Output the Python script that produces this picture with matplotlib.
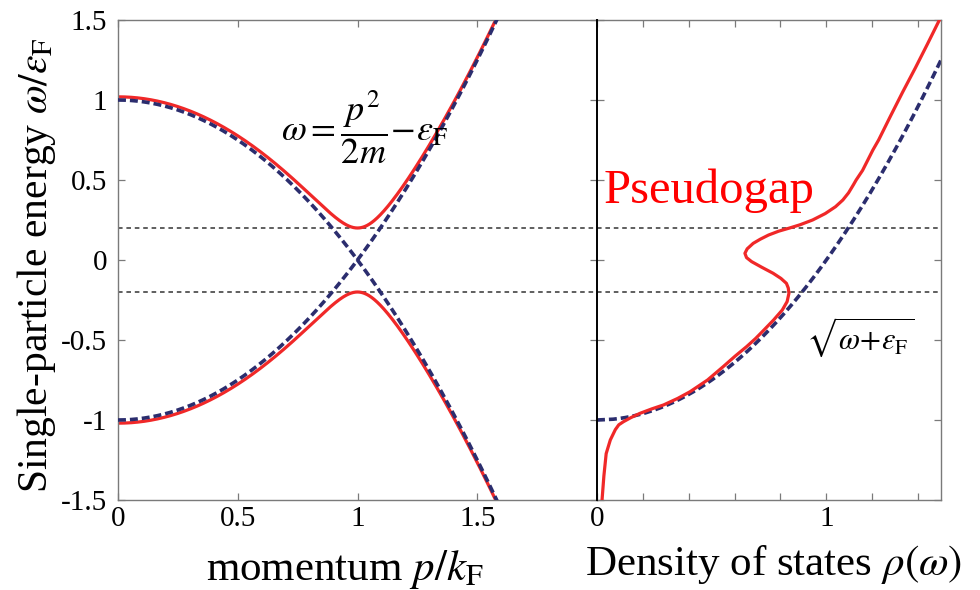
import glob
import os
import numpy as np
import matplotlib
matplotlib.use("Agg")
import matplotlib.pyplot as plt
from matplotlib import font_manager as fm

# register a Times-like serif face explicitly from its file
serif_name = None
cands = []
for d in ("/usr/share/fonts", "/usr/local/share/fonts", os.path.expanduser("~/.fonts")):
    cands += glob.glob(os.path.join(d, "**", "*.ttf"), recursive=True)
for path in sorted(cands):
    if os.path.basename(path).lower().startswith("liberationserif-regular"):
        fm.fontManager.addfont(path)
        serif_name = fm.FontProperties(fname=path).get_name()
        break
if serif_name is None:
    serif_name = "DejaVu Serif"

plt.rcParams["font.family"] = [serif_name, "DejaVu Serif"]
plt.rcParams["mathtext.fontset"] = "stix"
plt.rcParams["axes.unicode_minus"] = False

# ---- data -------------------------------------------------------------
# momentum grid (units of k_F) and pairing gap (units of eps_F)
momentum = np.linspace(0.0, 2.0, 801)
gap = 0.2

# free-particle density of states sampled on energy grid
dos_energy = np.linspace(-1.0, 1.5, 501)

# pseudogap density of states: (energy, rho) pairs
pg_energy = [-1.50, -1.35, -1.21, -1.125, -1.06, -1.03, -1.01, -0.985, -0.958,
             -0.93, -0.906, -0.865, -0.823, -0.75, -0.667, -0.60, -0.542, -0.49,
             -0.4375, -0.375, -0.3125, -0.26, -0.208, -0.175, -0.146, -0.115,
             -0.083, -0.045, -0.01, 0.015, 0.042, 0.07, 0.104, 0.13, 0.156,
             0.18, 0.20, 0.22, 0.25, 0.29, 0.333, 0.375, 0.42, 0.47, 0.5, 0.56,
             0.6875, 0.75, 0.9, 1.05, 1.2, 1.35, 1.5]
pg_rho = [0.022, 0.030, 0.040, 0.058, 0.080, 0.095, 0.116, 0.148, 0.188,
          0.240, 0.290, 0.352, 0.406, 0.482, 0.550, 0.603, 0.652, 0.692,
          0.728, 0.770, 0.808, 0.829, 0.837, 0.834, 0.826, 0.802,
          0.768, 0.718, 0.674, 0.652, 0.645, 0.655, 0.681, 0.712, 0.748,
          0.792, 0.840, 0.885, 0.940, 0.995, 1.040, 1.072, 1.097, 1.118, 1.130, 1.158,
          1.203, 1.228, 1.280, 1.333, 1.388, 1.441, 1.493]

y_ticks = [-1.5, -1.0, -0.5, 0.0, 0.5, 1.0, 1.5]
y_ticklabels = ["-1.5", "-1", "-0.5", "0", "0.5", "1", "1.5"]
left_xticks = [0.0, 0.5, 1.0, 1.5]
left_xticklabels = ["0", "0.5", "1", "1.5"]
right_xticks = [0.0, 0.2, 0.4, 0.6, 0.8, 1.0, 1.2, 1.4]
right_xticklabels = ["0", "", "", "", "", "1", "", ""]

# ---- styles -----------------------------------------------------------
RED = "#f02828"
NAVY = "#2b2d6e"
GRID_DOT = "#333333"
FRAME = "#7a7a7a"

fig = plt.figure(figsize=(9.8, 5.9), dpi=100)
W, H = 980.0, 590.0
bottom = 1 - 500 / H
height = 480 / H
ax1 = fig.add_axes([118 / W, bottom, 479 / W, height])
ax2 = fig.add_axes([597 / W, bottom, 344 / W, height])

# ---- left: dispersion -------------------------------------------------
xi = momentum ** 2 - 1.0
E = np.sqrt(xi ** 2 + gap ** 2)
ax1.plot(momentum, E, color=RED, lw=2.3, zorder=2)
ax1.plot(momentum, -E, color=RED, lw=2.3, zorder=2)
ax1.plot(momentum, xi, color=NAVY, lw=2.6, ls=(0, (2.2, 1.1)), zorder=3)
ax1.plot(momentum, -xi, color=NAVY, lw=2.6, ls=(0, (2.2, 1.1)), zorder=3)
for g in (gap, -gap):
    ax1.axhline(g, color=GRID_DOT, lw=1.1, ls=(0, (3, 2.5)), zorder=1)
ax1.text(1.03, 0.83, r"$\omega = \dfrac{p^2}{2m}\!-\!\varepsilon_{\rm F}$",
         fontsize=26, ha="center", va="center")

# ---- right: density of states ----------------------------------------
ax2.plot(np.sqrt(dos_energy + 1.0), dos_energy, color=NAVY, lw=2.6,
         ls=(0, (2.2, 1.1)), zorder=2)
ax2.plot(pg_rho, pg_energy, color=RED, lw=2.3, zorder=3,
         solid_joinstyle="round", solid_capstyle="round")
for g in (gap, -gap):
    ax2.axhline(g, color=GRID_DOT, lw=1.1, ls=(0, (3, 2.5)), zorder=1)
ax2.text(0.03, 0.355, "Pseudogap", color="#ff0000", fontsize=35,
         ha="left", va="baseline")
ax2.text(1.147, -0.48, r"$\sqrt{\omega\!+\!\varepsilon_{\rm F}}$",
         fontsize=22, ha="center", va="center")

# ---- axes cosmetics ---------------------------------------------------
for ax in (ax1, ax2):
    ax.set_ylim(-1.5, 1.5)
    ax.set_yticks(y_ticks)
    for sp in ax.spines.values():
        sp.set_color(FRAME)
        sp.set_linewidth(1.0)
    ax.tick_params(direction="in", length=5, width=0.9, color=FRAME,
                   top=True, right=True, labelsize=21, pad=4)

ax1.set_xlim(0, 2.0)
ax1.set_xticks(left_xticks)
ax1.set_xticklabels(left_xticklabels)
ax1.set_yticklabels(y_ticklabels)
ax1.tick_params(axis="y", pad=8)

ax2.set_xlim(0, 1.5)
ax2.set_xticks(right_xticks)
ax2.set_xticklabels(right_xticklabels)
ax2.set_yticklabels([])
ax2.spines["left"].set_color("black")
ax2.spines["left"].set_linewidth(1.4)
ax2.spines["left"].set_zorder(5)

ax1.set_ylabel(r"Single-particle energy $\omega/\varepsilon_{\rm F}$", fontsize=30)
ax1.yaxis.set_label_coords(-0.125, 0.49)
ax1.set_xlabel(r"momentum $p/k_{\rm F}$", fontsize=31)
ax1.xaxis.set_label_coords(0.474, -0.1)
ax2.set_xlabel(r"Density of states $\rho(\omega)$", fontsize=31)
ax2.xaxis.set_label_coords(0.513, -0.09)

fig.savefig("out.png", dpi=100)
